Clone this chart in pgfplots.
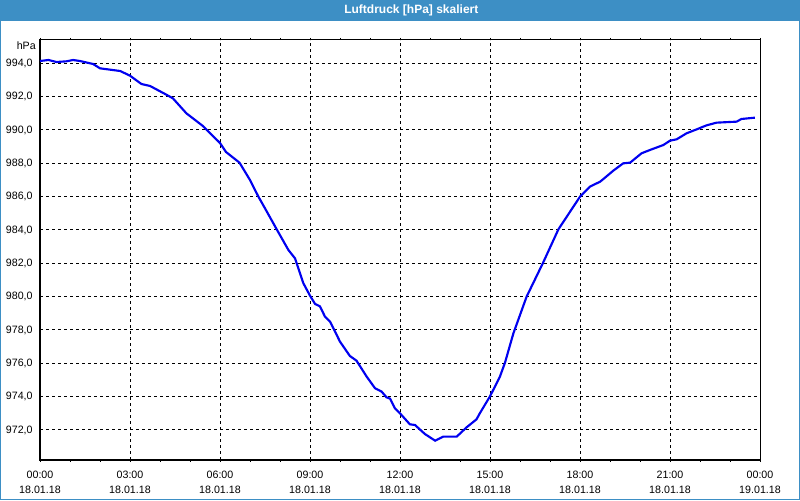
\documentclass[border=0pt]{standalone}
\usepackage{pgfplots}
\pgfplotsset{compat=1.18}
\usepackage{fontspec}
\setmainfont{Liberation Sans}
\definecolor{tb}{RGB}{61,143,197}
\definecolor{curve}{RGB}{0,0,240}
\begin{document}
\begin{tikzpicture}
\fill[tb] (0,0) rectangle (600pt,375pt);
\fill[white] (0.75pt,0.75pt) rectangle (599.25pt,359.5pt);
\node[text=white,font=\fontsize{9}{10}\selectfont\bfseries] at (308.5pt,367.5pt) {Luftdruck [hPa] skaliert};
\node[anchor=east,inner sep=0pt,font=\fontsize{8}{9}\selectfont] at (27pt,340.5pt) {hPa};
\begin{axis}[
  at={(30pt,30pt)}, anchor=south west,
  scale only axis, width=540pt, height=315pt,
  xmin=0, xmax=24, ymin=970.2, ymax=995.4,
  axis line style={black,line width=0.75pt},
  xtick={0,3,...,24},
  minor xtick={1,2,4,5,7,8,10,11,13,14,16,17,19,20,22,23},
  xticklabels={{00:00\\18.01.18},{03:00\\18.01.18},{06:00\\18.01.18},{09:00\\18.01.18},{12:00\\18.01.18},{15:00\\18.01.18},{18:00\\18.01.18},{21:00\\18.01.18},{00:00\\19.01.18}},
  xticklabel style={align=center,font=\fontsize{8}{11.25}\selectfont,yshift=-3pt},
  ytick={972,974,...,994},
  yticklabel style={font=\fontsize{8}{9}\selectfont,xshift=-0.5pt},
  /pgf/number format/.cd, fixed, fixed zerofill, precision=1, use comma, 1000 sep={}, assume math mode=true,
  /pgfplots/.cd,
  tick align=outside,
  major tick length=1.5pt, minor tick length=1.5pt,
  x tick style={black,line width=0.6pt},
  ytick style={draw=none},
  xmajorgrids, ymajorgrids,
  major grid style={black,line width=0.75pt,dash pattern=on 2.5pt off 2pt},
  axis on top=false,
]
\addplot[curve,line width=1.6pt] coordinates {
(0,994.14)(0.28,994.2)(0.55,994.08)(0.88,994.12)(1.1,994.2)(1.33,994.14)(1.77,993.96)(2.0,993.7)(2.67,993.54)(3.0,993.26)(3.38,992.76)(3.67,992.64)(4.17,992.16)(4.43,991.9)(4.88,991.0)(5.43,990.24)(6.0,989.22)(6.2,988.68)(6.65,988.04)(7.0,987.0)(7.28,986.0)(7.5,985.3)(7.89,984.04)(8.28,982.8)(8.5,982.3)(8.78,980.8)(9.0,980.06)(9.17,979.56)(9.33,979.42)(9.5,978.8)(9.67,978.5)(10.0,977.3)(10.33,976.44)(10.55,976.16)(10.89,975.2)(11.17,974.5)(11.39,974.3)(11.55,973.96)(11.67,973.88)(11.83,973.3)(12.0,973.0)(12.33,972.34)(12.5,972.3)(12.83,971.76)(13.17,971.36)(13.44,971.6)(13.89,971.6)(14.22,972.16)(14.55,972.64)(14.66,973.0)(15.0,974.02)(15.33,975.2)(15.5,976.04)(15.78,977.8)(16.22,980.0)(16.49,981.0)(16.77,982.04)(17.28,984.04)(18.0,986.0)(18.33,986.6)(18.67,986.9)(18.78,987.06)(19.11,987.56)(19.44,988.0)(19.67,988.04)(20.05,988.6)(20.33,988.8)(20.78,989.1)(21.0,989.36)(21.22,989.44)(21.55,989.8)(21.89,990.04)(22.22,990.28)(22.55,990.44)(23.22,990.5)(23.38,990.66)(23.83,990.74)
};
\end{axis}
\pgfresetboundingbox
\useasboundingbox (0,0) rectangle (600pt,375pt);
\end{tikzpicture}
\end{document}
